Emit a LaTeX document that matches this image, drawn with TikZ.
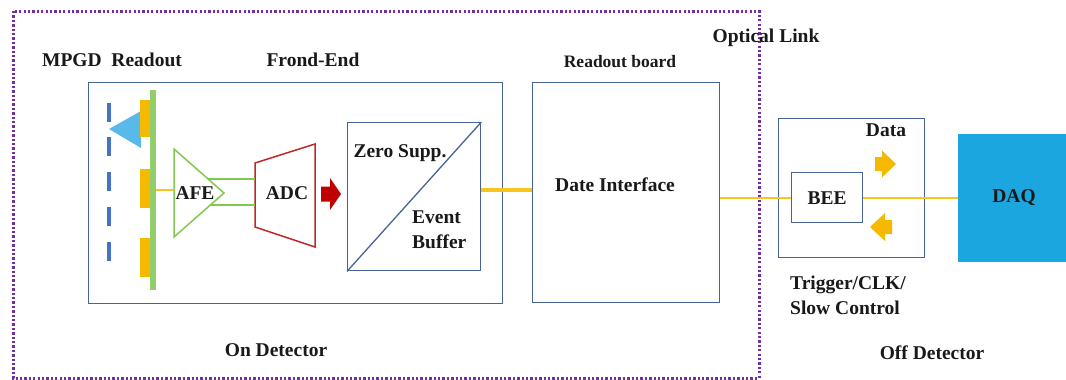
\documentclass[tikz,border=0pt]{standalone}
\usepackage{fontspec}
\setmainfont{Liberation Serif}
\definecolor{frameblue}{RGB}{70,100,150}
\definecolor{dotpurple}{RGB}{112,48,160}
\definecolor{padorange}{RGB}{245,185,0}
\definecolor{lineyellow}{RGB}{247,197,30}
\definecolor{bargreen}{RGB}{146,205,110}
\definecolor{afegreen}{RGB}{130,200,80}
\definecolor{adcred}{RGB}{190,40,40}
\definecolor{arrred}{RGB}{192,0,0}
\definecolor{dashblue}{RGB}{68,114,196}
\definecolor{triblue}{RGB}{90,185,235}
\definecolor{daqblue}{RGB}{27,166,224}
\definecolor{txt}{RGB}{25,25,25}
\begin{document}
\begin{tikzpicture}[x=1pt,y=-1pt,
  every node/.style={text=txt},
  lbl/.style={inner sep=0pt, font=\bfseries\fontsize{19.5}{25}\selectfont},
  smalllbl/.style={inner sep=0pt, font=\bfseries\fontsize{17.5}{22}\selectfont},
  framebox/.style={draw=frameblue, line width=1.4pt, inner sep=0pt, anchor=north west},
  yline/.style={draw=lineyellow, line width=1.8pt},
  ythick/.style={draw=lineyellow, line width=3.5pt},
  rarrow/.pic={\fill (0,-7)--(7,-7)--(7,-13.5)--(21,0)--(7,13.5)--(7,7)--(0,7)--cycle;},
  larrow/.pic={\fill (0,-7)--(-7,-7)--(-7,-14)--(-22,0)--(-7,14)--(-7,7)--(0,7)--cycle;},
  redarrow/.pic={\fill (0,-7.5)--(9,-7.5)--(9,-16)--(20,0)--(9,16)--(9,7.5)--(0,7.5)--cycle;}
]
\useasboundingbox (0,0) rectangle (1066,380);

% On-detector dotted region
\draw[dotpurple, line width=3pt, dash pattern=on 2.3pt off 2.1pt] (13,11) rectangle (759,378);

% Front-end box
\node[framebox, minimum width=414pt, minimum height=221pt] (fe) at (88,82) {};

% detector elements
\foreach \y in {103,137,172,207,242}
  \fill[dashblue] (107,\y) rectangle (111,\y+19);
\fill[triblue] (109,129) -- (141,111) -- (141,148) -- cycle;
\foreach \y/\h in {100/37,169/39,238/39}
  \fill[padorange] (140,\y) rectangle (149.5,\y+\h);
\fill[bargreen] (149.5,90) rectangle (155.5,290);
\coordinate (barout) at (155.5,190);

% AFE
\draw[afegreen, line width=1.5pt] (174,149) -- (224,193) -- (174,237) -- cycle;
\coordinate (afein) at (174,190);
\coordinate (afeup) at (208,179);
\coordinate (afelo) at (210,205);
\node[lbl] (afe) at (195,193) {AFE};
\draw[yline, line width=1.5pt] (barout) -- (afein);

% ADC
\draw[adcred, line width=1.5pt] (255,163) -- (315,144) -- (315,247) -- (255,227) -- cycle;
\coordinate (adcup) at (255,179);
\coordinate (adclo) at (255,205);
\node[lbl] (adc) at (287,193) {ADC};
\draw[afegreen, line width=1.5pt] (afeup) -- (adcup) (afelo) -- (adclo);
\pic[color=arrred] at (321,194) {redarrow};

% Zero suppression / event buffer
\node[framebox, minimum width=133pt, minimum height=148pt] (zs) at (347,122) {};
\draw[frameblue, line width=1.3pt] (zs.south west) -- (zs.north east);
\node[lbl] (zsup) at (400,153) {Zero Supp.};
\node[lbl, anchor=west, align=left] (evb) at (412,230) {Event\\Buffer};

% Readout board
\node[framebox, minimum width=187pt, minimum height=220pt] (rb) at (532,82) {};
\node[lbl] (di) at (615,185) {Date Interface};
\draw[ythick] (zs.east |- 0,190) -- (rb.west |- 0,190);

% BEE
\node[framebox, minimum width=146pt, minimum height=139pt] (bo) at (778,118) {};
\node[framebox, minimum width=71pt, minimum height=50pt] (bee) at (791,172) {};
\node[lbl] at (bee.center) {BEE};
\node[lbl] (data) at (886,130) {Data};
\pic[color=padorange] at (875,164) {rarrow};
\pic[color=padorange] at (892,227) {larrow};

% DAQ
\node[fill=daqblue, inner sep=0pt, anchor=north west, minimum width=108pt, minimum height=128pt] (daq) at (958,134) {};
\node[lbl] at (1014,198) {DAQ};

\draw[yline] (rb.east |- bee.west) -- (bee.west);
\draw[yline] (bee.east) -- (bee.east -| daq.west);

% labels
\node[lbl] (mpgd) at (112,60) {MPGD\ \ Readout};
\node[lbl] (fend) at (313,60) {Frond-End};
\node[smalllbl] (rbl) at (620,62) {Readout board};
\node[lbl] (opt) at (766,38) {Optical Link};
\node[lbl, anchor=west, align=left] (trig) at (790,295) {Trigger/CLK/\\Slow Control};
\node[lbl] (ond) at (276,350) {On Detector};
\node[lbl] (offd) at (932,353) {Off Detector};
\end{tikzpicture}
\end{document}
